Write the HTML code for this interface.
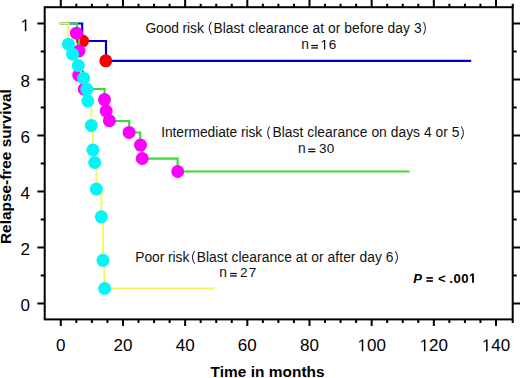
<!DOCTYPE html>
<html><head><meta charset="utf-8"><style>html,body{margin:0;padding:0;background:#fff;}svg{display:block;}.p{fill:#444;}</style></head>
<body><svg width="520" height="378" viewBox="0 0 520 378">
<rect width="520" height="378" fill="#fff"/>
<path d="M59.8,23.5 H82.2 V41 H106 V60.8 H471.2" fill="none" stroke="#0000c8" stroke-width="2.2"/>
<circle cx="82.6" cy="41" r="6.5" fill="#f40000"/><circle cx="105.8" cy="60.8" r="6.5" fill="#f40000"/>
<path d="M59.8,23.5 H77 V33 H79 V51 L76,56 L76,70 L78.8,75.2 L84.3,89 H104.6 V99.6 H106.2 V111 H109.4 V121 H129.2 V132.5 H140.2 V145 H142.2 V158.6 H177.6 V171.5 H409.5" fill="none" stroke="#3cd83c" stroke-width="2.2"/>
<circle cx="76.4" cy="33.2" r="6.5" fill="#fc00fc"/><circle cx="79.0" cy="51" r="6.5" fill="#fc00fc"/><circle cx="78.8" cy="75.2" r="6.5" fill="#fc00fc"/><circle cx="84.3" cy="89.2" r="6.5" fill="#fc00fc"/><circle cx="104.5" cy="99.6" r="6.5" fill="#fc00fc"/><circle cx="106.2" cy="111.0" r="6.5" fill="#fc00fc"/><circle cx="109.4" cy="120.7" r="6.5" fill="#fc00fc"/><circle cx="129.1" cy="132.4" r="6.5" fill="#fc00fc"/><circle cx="140.5" cy="145.1" r="6.5" fill="#fc00fc"/><circle cx="142.2" cy="158.5" r="6.5" fill="#fc00fc"/><circle cx="177.7" cy="171.5" r="6.5" fill="#fc00fc"/>
<path d="M59.8,23.5 H68.4 V44.2 L72.6,54.2 L78.3,65.6 L83.6,78.2 L86.8,89.3 L87.8,101 H91.3 V125.4 H92.8 V149.9 H94.7 V162.5 H96.4 V189 H101.3 V216.8 H102.8 V260.3 H104.4 V288.6 H214.5" fill="none" stroke="#f5f566" stroke-width="2.0"/>
<circle cx="68.4" cy="44.2" r="6.5" fill="#04f4f8"/><circle cx="72.6" cy="54.2" r="6.5" fill="#04f4f8"/><circle cx="78.3" cy="65.6" r="6.5" fill="#04f4f8"/><circle cx="83.6" cy="78.2" r="6.5" fill="#04f4f8"/><circle cx="86.8" cy="89.3" r="6.5" fill="#04f4f8"/><circle cx="87.8" cy="101.0" r="6.5" fill="#04f4f8"/><circle cx="91.3" cy="125.4" r="6.5" fill="#04f4f8"/><circle cx="92.9" cy="149.9" r="6.5" fill="#04f4f8"/><circle cx="94.7" cy="162.5" r="6.5" fill="#04f4f8"/><circle cx="96.3" cy="189.1" r="6.5" fill="#04f4f8"/><circle cx="101.3" cy="216.8" r="6.5" fill="#04f4f8"/><circle cx="103.0" cy="260.3" r="6.5" fill="#04f4f8"/><circle cx="104.6" cy="288.5" r="6.5" fill="#04f4f8"/>
<rect x="44.7" y="7.2" width="468.00" height="312.20" fill="none" stroke="#000" stroke-width="2"/>
<path d="M60.80,319.4 v6.5 M60.80,7.2 v-7.2 M76.34,319.4 v3.5 M76.34,7.2 v-3.4 M91.89,319.4 v3.5 M91.89,7.2 v-3.4 M107.43,319.4 v3.5 M107.43,7.2 v-3.4 M122.97,319.4 v6.5 M122.97,7.2 v-7.2 M138.51,319.4 v3.5 M138.51,7.2 v-3.4 M154.06,319.4 v3.5 M154.06,7.2 v-3.4 M169.60,319.4 v3.5 M169.60,7.2 v-3.4 M185.14,319.4 v6.5 M185.14,7.2 v-7.2 M200.69,319.4 v3.5 M200.69,7.2 v-3.4 M216.23,319.4 v3.5 M216.23,7.2 v-3.4 M231.77,319.4 v3.5 M231.77,7.2 v-3.4 M247.32,319.4 v6.5 M247.32,7.2 v-7.2 M262.86,319.4 v3.5 M262.86,7.2 v-3.4 M278.40,319.4 v3.5 M278.40,7.2 v-3.4 M293.94,319.4 v3.5 M293.94,7.2 v-3.4 M309.49,319.4 v6.5 M309.49,7.2 v-7.2 M325.03,319.4 v3.5 M325.03,7.2 v-3.4 M340.57,319.4 v3.5 M340.57,7.2 v-3.4 M356.12,319.4 v3.5 M356.12,7.2 v-3.4 M371.66,319.4 v6.5 M371.66,7.2 v-7.2 M387.20,319.4 v3.5 M387.20,7.2 v-3.4 M402.75,319.4 v3.5 M402.75,7.2 v-3.4 M418.29,319.4 v3.5 M418.29,7.2 v-3.4 M433.83,319.4 v6.5 M433.83,7.2 v-7.2 M449.38,319.4 v3.5 M449.38,7.2 v-3.4 M464.92,319.4 v3.5 M464.92,7.2 v-3.4 M480.46,319.4 v3.5 M480.46,7.2 v-3.4 M496.00,319.4 v6.5 M496.00,7.2 v-7.2 M512.70,319.4 v3.5 M512.70,7.2 v-3.4 M44.7,303.40 h-7.3 M512.7,303.40 h7.3 M44.7,275.41 h-4 M512.7,275.41 h4 M44.7,247.42 h-7.3 M512.7,247.42 h7.3 M44.7,219.43 h-4 M512.7,219.43 h4 M44.7,191.44 h-7.3 M512.7,191.44 h7.3 M44.7,163.45 h-4 M512.7,163.45 h4 M44.7,135.46 h-7.3 M512.7,135.46 h7.3 M44.7,107.47 h-4 M512.7,107.47 h4 M44.7,79.48 h-7.3 M512.7,79.48 h7.3 M44.7,51.49 h-4 M512.7,51.49 h4 M44.7,23.50 h-7.3 M512.7,23.50 h7.3" stroke="#000" stroke-width="2" fill="none"/>
<g font-family="Liberation Sans, sans-serif" font-size="17" fill="#000">
<text x="56.07" y="351.2" font-size="17" fill="#000">0</text><text x="113.52 122.97" y="351.2" font-size="17" fill="#000">20</text><text x="175.69 185.14" y="351.2" font-size="17" fill="#000">40</text><text x="237.86 247.32" y="351.2" font-size="17" fill="#000">60</text><text x="300.03 309.49" y="351.2" font-size="17" fill="#000">80</text><path transform="translate(357.48,351.2) scale(0.00830,-0.00830)" d="M515,0 L515,1237 L197,1010 L197,1180 L530,1409 L696,1409 L696,0 Z" fill="#000"/><text x="366.93 376.39" y="351.2" font-size="17" fill="#000">00</text><path transform="translate(419.65,351.2) scale(0.00830,-0.00830)" d="M515,0 L515,1237 L197,1010 L197,1180 L530,1409 L696,1409 L696,0 Z" fill="#000"/><text x="429.10 438.56" y="351.2" font-size="17" fill="#000">20</text><path transform="translate(481.82,351.2) scale(0.00830,-0.00830)" d="M515,0 L515,1237 L197,1010 L197,1180 L530,1409 L696,1409 L696,0 Z" fill="#000"/><text x="491.28 500.73" y="351.2" font-size="17" fill="#000">40</text>
<path transform="translate(20.57,31.3) scale(0.00830,-0.00830)" d="M515,0 L515,1237 L197,1010 L197,1180 L530,1409 L696,1409 L696,0 Z" fill="#000"/><text x="20.57" y="87.28" font-size="17" fill="#000">8</text><text x="20.57" y="143.26" font-size="17" fill="#000">6</text><text x="20.57" y="199.24" font-size="17" fill="#000">4</text><text x="20.57" y="255.22" font-size="17" fill="#000">2</text><text x="20.57" y="311.2" font-size="17" fill="#000">0</text>
</g>
<g font-family="Liberation Sans, sans-serif" font-size="13.8" fill="#111">
<text x="145.41" y="32.5" font-size="13.8" textLength="58.38" >Good risk</text>
<path d="M211.40,21.90 Q207.00,28.20 211.40,34.50" fill="none" stroke="#111" stroke-width="1.0"/>
<text x="213.47" y="32.5" font-size="13.8" textLength="208.13" >Blast clearance at or before day 3</text>
<path d="M423.50,21.90 Q427.30,28.20 423.50,34.50" fill="none" stroke="#111" stroke-width="1.0"/>
<text x="301.19" y="49.4" font-size="13.8" textLength="7.60" >n</text>
<rect x="311.30" y="44.90" width="6.70" height="1.25" fill="#111"/><rect x="311.30" y="47.30" width="6.70" height="1.3" fill="#111"/>
<path transform="translate(320.59,49.4) scale(0.00664,-0.00664)" d="M515,0 L515,1237 L197,1010 L197,1180 L530,1409 L696,1409 L696,0 Z" fill="#111"/><text x="328.76" y="49.4" font-size="13.6" fill="#111">6</text>
<text x="161.23" y="137.1" font-size="13.8" textLength="100.96" >Intermediate risk</text>
<path d="M269.60,126.50 Q265.80,132.80 269.60,139.10" fill="none" stroke="#111" stroke-width="1.0"/>
<text x="272.47" y="137.1" font-size="13.8" textLength="187.01" >Blast clearance on days 4 or 5</text>
<path d="M461.20,126.50 Q465.60,132.80 461.20,139.10" fill="none" stroke="#111" stroke-width="1.0"/>
<text x="297.99" y="153.1" font-size="13.8" textLength="8.00" >n</text>
<rect x="308.30" y="148.60" width="7.00" height="1.25" fill="#111"/><rect x="308.30" y="151.00" width="7.00" height="1.3" fill="#111"/>
<text x="319.08" y="153.1" font-size="13.6" textLength="15.24" >30</text>
<text x="135.37" y="261.7" font-size="13.8" textLength="53.92" >Poor risk</text>
<path d="M194.60,251.10 Q190.20,257.40 194.60,263.70" fill="none" stroke="#111" stroke-width="1.0"/>
<text x="196.67" y="261.7" font-size="13.8" textLength="196.75" >Blast clearance at or after day 6</text>
<path d="M395.30,251.10 Q399.70,257.40 395.30,263.70" fill="none" stroke="#111" stroke-width="1.0"/>
<text x="219.29" y="277.1" font-size="13.8" textLength="8.30" >n</text>
<rect x="230.10" y="272.90" width="6.70" height="1.25" fill="#111"/><rect x="230.10" y="275.30" width="6.70" height="1.3" fill="#111"/>
<text x="239.92" y="277.1" font-size="13.6" textLength="16.36" >27</text>
</g>
<g font-family="Liberation Sans, sans-serif" font-size="13" font-weight="bold" fill="#000">
<text x="413.27" y="282.7" font-size="13" textLength="8.42" font-style="italic">P</text>
<rect x="426.4" y="277.1" width="6.5" height="1.65" fill="#000"/><rect x="426.4" y="280.2" width="6.5" height="1.65" fill="#000"/>
<text x="438.05" y="282.7" font-size="13" textLength="8.27" >&lt;</text>
<path transform="translate(469.00,282.7) scale(0.00645,-0.00645)" d="M478,0 L478,1170 L140,959 L140,1180 L493,1409 L759,1409 L759,0 Z" fill="#000"/><text x="449.30 453.42 461.21" y="282.7" font-size="13.2" font-weight="bold" fill="#000">.00</text>
<text x="210.62" y="377.0" font-size="15.4" textLength="113.99" >Time in months</text>
<text transform="translate(11,166.6) rotate(-90)" text-anchor="middle" font-size="15.4">Relapse-free survival</text>
</g>
</svg></body></html>
